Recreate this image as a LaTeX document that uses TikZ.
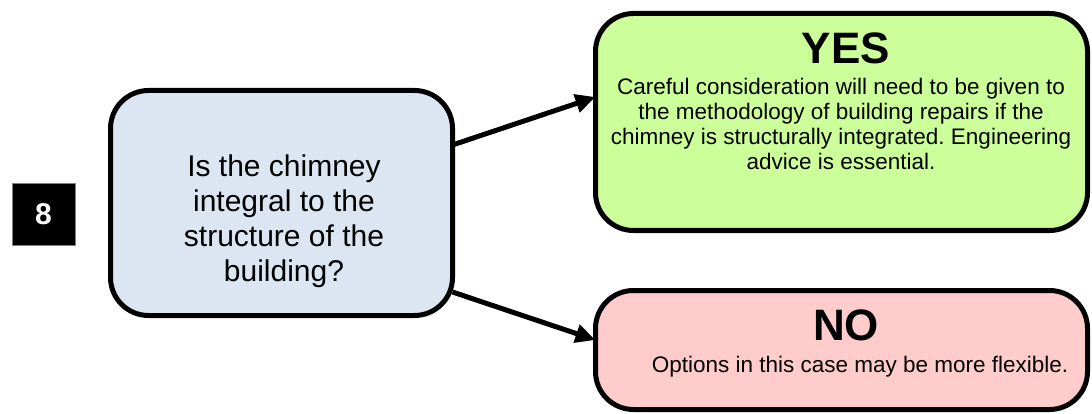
\documentclass[tikz,border=0pt]{standalone}
\usepackage{fontspec}
\setmainfont{Liberation Sans}
\usetikzlibrary{arrows.meta}
\definecolor{qfill}{HTML}{DCE6F2}
\definecolor{yesfill}{HTML}{CCFF99}
\definecolor{nofill}{HTML}{FFCCCC}
\frenchspacing
\begin{document}
\begin{tikzpicture}[x=1pt,y=-1pt,
  box/.style={draw=black, line width=5pt, rounded corners=38pt, inner sep=0pt, outer sep=0pt},
  conn/.style={line width=5pt, -{Triangle[length=20pt,width=18pt]}},
  title/.style={font=\bfseries\fontsize{44}{48}\selectfont, inner sep=0pt},
  body/.style={font=\fontsize{22.5}{25}\selectfont, align=center, inner sep=0pt}]
\useasboundingbox (0,0) rectangle (1092,414);

% step number
\node[fill=black, draw=gray, line width=0.8pt, minimum width=63pt, minimum height=62pt,
      inner sep=0pt, text=white, font=\bfseries\fontsize{30}{34}\selectfont] (num) at (43.5,214) {8};

% question box
\node[box, fill=qfill, minimum width=342pt, minimum height=225pt] (q) at (281.5,203) {};
\node[font=\fontsize{30}{35}\selectfont, align=center, inner sep=0pt] (qtext) at (284,221)
  {Is the chimney\\integral to the\\structure of the\\building?};

% answer boxes
\node[box, fill=yesfill, minimum width=492pt, minimum height=217pt] (yes) at (841.5,122) {};
\node[title] (yestitle) at (846,48) {YES};
\node[body] (yesbody) at (841,124)
  {Careful consideration will need to be given to\\the methodology of building repairs if the\\chimney is structurally integrated. Engineering\\advice is essential.};

\node[box, fill=nofill, minimum width=492pt, minimum height=119pt] (no) at (841.5,350) {};
\node[title] (notitle) at (846,325) {NO};
\node[body] (nobody) at (860,367) {Options in this case may be more flexible.};

% connectors
\draw[conn] ([yshift=58pt]q.east) -- ([yshift=25pt]yes.west);
\draw[conn] ([yshift=-89pt]q.east) -- ([yshift=10pt]no.west);
\end{tikzpicture}
\end{document}
